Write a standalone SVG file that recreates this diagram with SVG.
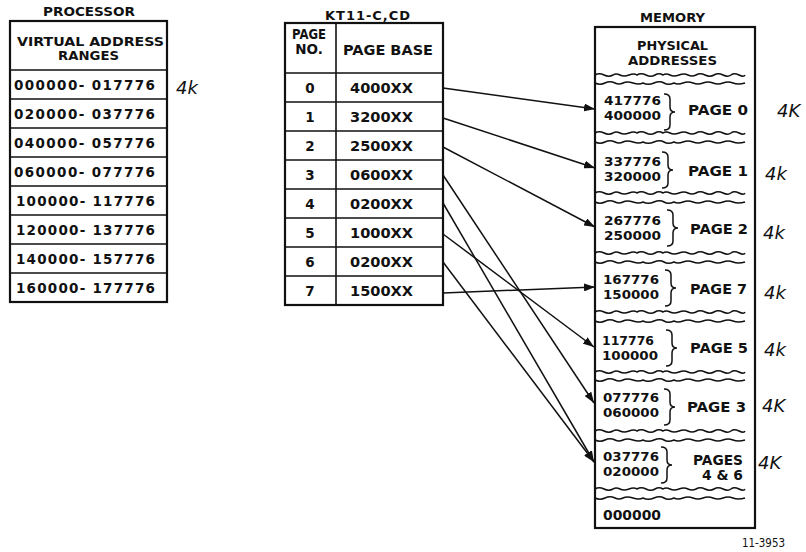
<svg xmlns="http://www.w3.org/2000/svg" xmlns:xlink="http://www.w3.org/1999/xlink" width="806" height="552" viewBox="0 0 806 552">
<style>
.t{font-family:"DejaVu Sans","Liberation Sans",sans-serif;font-weight:bold;font-size:13.5px;fill:#111}
.s{font-size:13px}
.m{font-size:12.5px}
.n{font-weight:normal;font-size:12px}
.hand{font-family:"DejaVu Sans",sans-serif;font-style:italic;font-size:18px;fill:#111}
.frame{fill:none;stroke:#111;stroke-width:2.2}
.rule{stroke:#111;stroke-width:1.6}
.wave{fill:none;stroke:#111;stroke-width:1.5}
.brace{fill:none;stroke:#111;stroke-width:1.5}
.conn{stroke:#111;stroke-width:1.5;fill:none;marker-end:url(#arr)}
</style>
<defs>
<marker id="arr" markerUnits="userSpaceOnUse" markerWidth="11" markerHeight="8" refX="11" refY="4" orient="auto">
<path d="M0,0 L11,4 L0,8 z" fill="#111"/>
</marker>
<path id="waveA" class="wave" d="M0,0 q4,-2.4 9,0 t9,0 q3,-2 7,0 t9,0 t8,0 q4,-2.6 9,0 t9,0 t8,0 q3,-2 7,0 t9,0 t9,0 t8,0 q4,-2.4 9,0 t9,0 t9,0 t8,0 t8,0 t6,0"/>
<path id="waveB" class="wave" d="M0,0 q5,2.4 10,0 t10,0 q4,2 8,0 t10,0 t10,0 q5,2.6 11,0 t10,0 t10,0 q4,2 9,0 t10,0 t10,0 t10,0 t10,0 t10,0 t12,0"/>
<path id="brace" class="brace" d="M0,0 q6,0 6,5 v8 q0,5 5,5 q-5,0 -5,5 v8 q0,5 -6,5"/>
</defs>
<rect x="0" y="0" width="806" height="552" fill="#fff"/>

<g id="processor">
<text class="t s" x="43" y="16" textLength="92" lengthAdjust="spacingAndGlyphs">PROCESSOR</text>
<rect class="frame" x="10" y="21" width="157" height="281"/>
<line class="rule" x1="10" y1="70" x2="167" y2="70"/>
<line class="rule" x1="10" y1="99" x2="167" y2="99"/>
<line class="rule" x1="10" y1="128" x2="167" y2="128"/>
<line class="rule" x1="10" y1="157" x2="167" y2="157"/>
<line class="rule" x1="10" y1="186" x2="167" y2="186"/>
<line class="rule" x1="10" y1="215" x2="167" y2="215"/>
<line class="rule" x1="10" y1="244" x2="167" y2="244"/>
<line class="rule" x1="10" y1="273" x2="167" y2="273"/>
<text class="t s" x="17" y="46" textLength="147" lengthAdjust="spacingAndGlyphs">VIRTUAL ADDRESS</text>
<text class="t s" x="58" y="60" textLength="61" lengthAdjust="spacingAndGlyphs">RANGES</text>
<text class="t" x="14" y="90" textLength="141" lengthAdjust="spacing">000000- 017776</text>
<text class="t" x="14" y="119" textLength="141" lengthAdjust="spacing">020000- 037776</text>
<text class="t" x="14" y="148" textLength="141" lengthAdjust="spacing">040000- 057776</text>
<text class="t" x="14" y="177" textLength="141" lengthAdjust="spacing">060000- 077776</text>
<text class="t" x="16" y="206" textLength="139" lengthAdjust="spacing">100000- 117776</text>
<text class="t" x="16" y="235" textLength="139" lengthAdjust="spacing">120000- 137776</text>
<text class="t" x="16" y="264" textLength="139" lengthAdjust="spacing">140000- 157776</text>
<text class="t" x="16" y="293" textLength="139" lengthAdjust="spacing">160000- 177776</text>
<text class="hand" x="176" y="94">4k</text>
</g>

<g id="kt11">
<text class="t s" x="325" y="20" textLength="85" lengthAdjust="spacing">KT11-C,CD</text>
<rect class="frame" x="285" y="23" width="158" height="282"/>
<line class="rule" x1="336" y1="23" x2="336" y2="305"/>
<line class="rule" x1="285" y1="73" x2="443" y2="73"/>
<line class="rule" x1="285" y1="102" x2="443" y2="102"/>
<line class="rule" x1="285" y1="131" x2="443" y2="131"/>
<line class="rule" x1="285" y1="160" x2="443" y2="160"/>
<line class="rule" x1="285" y1="189" x2="443" y2="189"/>
<line class="rule" x1="285" y1="218" x2="443" y2="218"/>
<line class="rule" x1="285" y1="247" x2="443" y2="247"/>
<line class="rule" x1="285" y1="276" x2="443" y2="276"/>
<text class="t" x="309" y="39" text-anchor="middle" textLength="34" lengthAdjust="spacingAndGlyphs">PAGE</text>
<text class="t" x="309" y="54" text-anchor="middle">NO.</text>
<text class="t" x="343" y="55" textLength="90" lengthAdjust="spacingAndGlyphs">PAGE BASE</text>
</g>
<g id="kt-row-0"><text class="t" x="310" y="93" text-anchor="middle">0</text><text class="t" x="350" y="93" textLength="63" lengthAdjust="spacingAndGlyphs">4000XX</text></g>
<g id="kt-row-1"><text class="t" x="310" y="122" text-anchor="middle">1</text><text class="t" x="350" y="122" textLength="63" lengthAdjust="spacingAndGlyphs">3200XX</text></g>
<g id="kt-row-2"><text class="t" x="310" y="151" text-anchor="middle">2</text><text class="t" x="350" y="151" textLength="63" lengthAdjust="spacingAndGlyphs">2500XX</text></g>
<g id="kt-row-3"><text class="t" x="310" y="180" text-anchor="middle">3</text><text class="t" x="350" y="180" textLength="63" lengthAdjust="spacingAndGlyphs">0600XX</text></g>
<g id="kt-row-4"><text class="t" x="310" y="209" text-anchor="middle">4</text><text class="t" x="350" y="209" textLength="63" lengthAdjust="spacingAndGlyphs">0200XX</text></g>
<g id="kt-row-5"><text class="t" x="310" y="238" text-anchor="middle">5</text><text class="t" x="350" y="238" textLength="63" lengthAdjust="spacingAndGlyphs">1000XX</text></g>
<g id="kt-row-6"><text class="t" x="310" y="267" text-anchor="middle">6</text><text class="t" x="350" y="267" textLength="63" lengthAdjust="spacingAndGlyphs">0200XX</text></g>
<g id="kt-row-7"><text class="t" x="310" y="296" text-anchor="middle">7</text><text class="t" x="350" y="296" textLength="63" lengthAdjust="spacingAndGlyphs">1500XX</text></g>

<g id="memory">
<text class="t s" x="640" y="22" textLength="65" lengthAdjust="spacingAndGlyphs">MEMORY</text>
<rect class="frame" x="595" y="27" width="160" height="501"/>
<text class="t s" x="637" y="50" textLength="71" lengthAdjust="spacingAndGlyphs">PHYSICAL</text>
<text class="t s" x="628" y="65" textLength="89" lengthAdjust="spacingAndGlyphs">ADDRESSES</text>
<use xlink:href="#waveA" x="595" y="75"/><use xlink:href="#waveB" x="595" y="83"/>
<use xlink:href="#waveA" x="595" y="133"/><use xlink:href="#waveB" x="595" y="142"/>
<use xlink:href="#waveA" x="595" y="193"/><use xlink:href="#waveB" x="595" y="202"/>
<use xlink:href="#waveA" x="595" y="253"/><use xlink:href="#waveB" x="595" y="262"/>
<use xlink:href="#waveA" x="595" y="312"/><use xlink:href="#waveB" x="595" y="321"/>
<use xlink:href="#waveA" x="595" y="372"/><use xlink:href="#waveB" x="595" y="380"/>
<use xlink:href="#waveA" x="595" y="431"/><use xlink:href="#waveB" x="595" y="440"/>
<use xlink:href="#waveA" x="595" y="489"/><use xlink:href="#waveB" x="595" y="498"/>
</g>
<g id="mem-page-0">
<text class="t m" x="604" y="105" textLength="57" lengthAdjust="spacingAndGlyphs">417776</text>
<text class="t m" x="604" y="120" textLength="57" lengthAdjust="spacingAndGlyphs">400000</text>
<use xlink:href="#brace" x="664" y="94"/>
<text class="t" x="688" y="115" textLength="60" lengthAdjust="spacingAndGlyphs">PAGE 0</text>
<text class="hand" x="777" y="117">4K</text>
</g>
<g id="mem-page-1">
<text class="t m" x="604" y="166" textLength="57" lengthAdjust="spacingAndGlyphs">337776</text>
<text class="t m" x="604" y="181" textLength="57" lengthAdjust="spacingAndGlyphs">320000</text>
<use xlink:href="#brace" x="662" y="152"/>
<text class="t" x="688" y="176" textLength="60" lengthAdjust="spacingAndGlyphs">PAGE 1</text>
<text class="hand" x="765" y="180">4k</text>
</g>
<g id="mem-page-2">
<text class="t m" x="604" y="225" textLength="57" lengthAdjust="spacingAndGlyphs">267776</text>
<text class="t m" x="604" y="240" textLength="57" lengthAdjust="spacingAndGlyphs">250000</text>
<use xlink:href="#brace" x="667" y="210"/>
<text class="t" x="690" y="234" textLength="58" lengthAdjust="spacingAndGlyphs">PAGE 2</text>
<text class="hand" x="763" y="239">4k</text>
</g>
<g id="mem-page-7">
<text class="t m" x="603" y="284" textLength="56" lengthAdjust="spacingAndGlyphs">167776</text>
<text class="t m" x="603" y="299" textLength="56" lengthAdjust="spacingAndGlyphs">150000</text>
<use xlink:href="#brace" x="665" y="270"/>
<text class="t" x="690" y="294" textLength="57" lengthAdjust="spacingAndGlyphs">PAGE 7</text>
<text class="hand" x="764" y="299">4k</text>
</g>
<g id="mem-page-5">
<text class="t m" x="602" y="345" textLength="52" lengthAdjust="spacingAndGlyphs">117776</text>
<text class="t m" x="602" y="360" textLength="56" lengthAdjust="spacingAndGlyphs">100000</text>
<use xlink:href="#brace" x="666" y="330"/>
<text class="t" x="690" y="353" textLength="58" lengthAdjust="spacingAndGlyphs">PAGE 5</text>
<text class="hand" x="764" y="356">4k</text>
</g>
<g id="mem-page-3">
<text class="t m" x="603" y="402" textLength="56" lengthAdjust="spacingAndGlyphs">077776</text>
<text class="t m" x="603" y="417" textLength="56" lengthAdjust="spacingAndGlyphs">060000</text>
<use xlink:href="#brace" x="664" y="389"/>
<text class="t" x="687" y="412" textLength="59" lengthAdjust="spacingAndGlyphs">PAGE 3</text>
<text class="hand" x="762" y="412">4K</text>
</g>
<g id="mem-pages-4-6">
<text class="t m" x="603" y="461" textLength="56" lengthAdjust="spacingAndGlyphs">037776</text>
<text class="t m" x="603" y="476" textLength="56" lengthAdjust="spacingAndGlyphs">020000</text>
<use xlink:href="#brace" x="661" y="447"/>
<text class="t" x="743" y="465" text-anchor="end" textLength="50" lengthAdjust="spacingAndGlyphs">PAGES</text>
<text class="t" x="743" y="480" text-anchor="end" textLength="41" lengthAdjust="spacingAndGlyphs">4 &amp; 6</text>
<text class="hand" x="758" y="469">4K</text>
</g>
<g id="mem-base">
<text class="t" x="603" y="520" textLength="58" lengthAdjust="spacingAndGlyphs">000000</text>
</g>
<text class="t n" x="742" y="547" textLength="43" lengthAdjust="spacingAndGlyphs">11-3953</text>

<g id="connectors">
<line class="conn" x1="443" y1="88" x2="595" y2="109"/>
<line class="conn" x1="443" y1="118" x2="595" y2="168"/>
<line class="conn" x1="443" y1="147" x2="595" y2="227"/>
<line class="conn" x1="443" y1="175" x2="594" y2="403"/>
<line class="conn" x1="443" y1="203" x2="594" y2="462"/>
<line class="conn" x1="443" y1="234" x2="594" y2="347"/>
<line class="conn" x1="443" y1="262" x2="594" y2="462"/>
<line class="conn" x1="443" y1="293" x2="595" y2="287"/>
</g>
</svg>
